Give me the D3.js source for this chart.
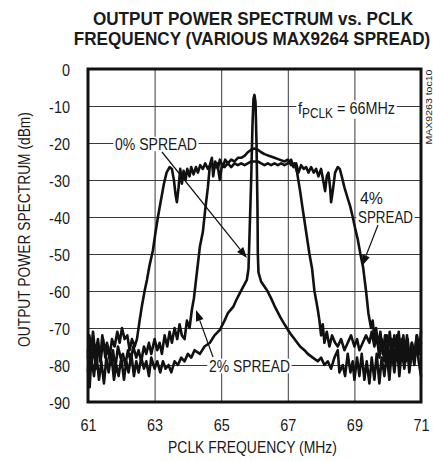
<!DOCTYPE html>
<html><head><meta charset="utf-8">
<script src="https://cdn.jsdelivr.net/npm/d3@7"></script>
<style>
html,body{margin:0;padding:0;background:#fff;}
svg{display:block;}
text{font-family:"Liberation Sans",Arial,sans-serif;fill:#1a1a1a;}
</style></head>
<body>
<svg id="chart" width="433" height="461"></svg>
<script>
// ---------------- data ----------------
const titleLines = ["OUTPUT POWER SPECTRUM vs. PCLK", "FREQUENCY (VARIOUS MAX9264 SPREAD)"];
const xTicks = [61, 63, 65, 67, 69, 71];
const yTicks = [0, -10, -20, -30, -40, -50, -60, -70, -80, -90];
const xTitle = "PCLK FREQUENCY (MHz)";
const yTitle = "OUTPUT POWER SPECTRUM (dBm)";

// [frequency MHz, power dBm]
const spread0 = [[61.0,-76],[61.05,-86],[61.1,-78],[61.18,-83],[61.25,-77],[61.33,-84],[61.4,-79],[61.48,-85],[61.55,-78],[61.62,-82],[61.7,-77],[61.78,-84],[61.85,-80],[61.92,-83],[62.0,-78],[62.08,-84],[62.15,-79],[62.22,-82],[62.3,-77],[62.38,-83],[62.45,-79],[62.52,-82],[62.6,-78],[62.68,-81],[62.75,-79],[62.83,-83],[62.9,-78],[63.0,-81],[63.08,-79],[63.17,-82],[63.25,-79],[63.33,-81],[63.42,-80],[63.5,-82],[63.6,-79],[63.7,-80],[63.8,-78],[63.9,-79],[64.0,-77],[64.1,-78],[64.2,-76],[64.36,-77],[64.5,-75],[64.66,-74],[64.8,-72],[64.96,-70.5],[65.1,-68],[65.2,-66],[65.36,-64.3],[65.45,-62.5],[65.56,-60.6],[65.65,-59],[65.77,-57],[65.82,-54],[65.85,-45],[65.9,-30],[65.94,-15],[65.97,-8],[66.0,-7],[66.03,-9],[66.06,-20],[66.09,-38],[66.1,-50],[66.12,-55],[66.2,-57.5],[66.37,-59.7],[66.5,-62],[66.6,-64],[66.77,-67],[66.9,-69],[67.07,-71.4],[67.2,-73],[67.37,-75],[67.5,-76],[67.6,-77],[67.75,-78],[67.9,-79],[68.0,-78],[68.1,-80],[68.2,-79],[68.3,-81],[68.4,-78],[68.5,-76],[68.55,-82],[68.65,-80],[68.72,-83],[68.8,-77],[68.88,-82],[68.95,-79],[69.0,-84],[69.08,-78],[69.15,-83],[69.22,-77],[69.3,-84],[69.37,-79],[69.45,-85],[69.52,-78],[69.6,-84],[69.67,-77],[69.75,-85],[69.82,-78],[69.9,-83],[69.97,-77],[70.05,-84],[70.12,-76],[70.2,-82],[70.28,-75],[70.35,-83],[70.42,-76],[70.5,-81],[70.58,-75],[70.65,-82],[70.72,-76],[70.8,-80],[70.87,-74],[70.93,-79],[71.0,-83]];

const spread2 = [[61.0,-82],[61.04,-73],[61.1,-80],[61.17,-75],[61.24,-81],[61.3,-74],[61.38,-79],[61.45,-73],[61.52,-78],[61.6,-75],[61.67,-80],[61.75,-76],[61.82,-81],[61.9,-75],[61.98,-78],[62.05,-77],[62.12,-80],[62.2,-76],[62.28,-79],[62.36,-75],[62.45,-78],[62.52,-76],[62.6,-79],[62.68,-75],[62.75,-77],[62.83,-74],[62.9,-77],[63.0,-73],[63.08,-76],[63.15,-74],[63.22,-77],[63.3,-72],[63.38,-75],[63.45,-71],[63.52,-74],[63.6,-70],[63.68,-73],[63.75,-69],[63.82,-72],[63.9,-73],[63.97,-68],[64.05,-70],[64.12,-65],[64.18,-62],[64.27,-55],[64.36,-48],[64.45,-44],[64.52,-38],[64.6,-32],[64.66,-26],[64.72,-24],[64.76,-29],[64.82,-25],[64.9,-27],[64.96,-24.5],[65.05,-26.5],[65.12,-24.5],[65.2,-25.5],[65.3,-24.5],[65.4,-25],[65.5,-24],[65.6,-24],[65.7,-23.5],[65.8,-22.5],[65.9,-21.8],[66.0,-21.5],[66.1,-21.8],[66.2,-22.5],[66.3,-23],[66.45,-23.5],[66.6,-24],[66.75,-24.5],[66.9,-25],[67.0,-24.5],[67.1,-26],[67.2,-25.5],[67.28,-28],[67.37,-33],[67.45,-38],[67.55,-44],[67.65,-50],[67.73,-54],[67.8,-60],[67.9,-65],[67.95,-68],[68.0,-72],[68.05,-69],[68.1,-74],[68.17,-71],[68.25,-75],[68.33,-72],[68.42,-74],[68.5,-75],[68.6,-73],[68.7,-76],[68.8,-74],[68.9,-72],[69.0,-75],[69.08,-73],[69.15,-76],[69.25,-74],[69.35,-72],[69.45,-74],[69.52,-71],[69.6,-75],[69.67,-72],[69.75,-78],[69.82,-73],[69.9,-79],[69.97,-72],[70.05,-80],[70.12,-73],[70.2,-79],[70.28,-72],[70.35,-80],[70.42,-73],[70.5,-78],[70.58,-72],[70.65,-79],[70.72,-74],[70.8,-77],[70.88,-72],[70.95,-76],[71.0,-71]];

const spread4 = [[61.0,-78],[61.04,-72],[61.1,-76],[61.15,-71],[61.22,-77],[61.3,-73],[61.36,-79],[61.43,-72],[61.5,-76],[61.57,-74],[61.65,-78],[61.72,-73],[61.8,-75],[61.88,-71],[61.95,-74],[62.02,-70],[62.1,-73],[62.18,-72],[62.25,-76],[62.32,-73],[62.4,-75],[62.47,-73],[62.55,-68],[62.62,-64],[62.7,-60],[62.77,-57],[62.85,-53],[62.95,-49],[63.03,-44],[63.1,-40],[63.2,-35],[63.28,-31],[63.36,-28],[63.45,-26.5],[63.52,-27],[63.58,-30],[63.63,-34],[63.67,-36],[63.72,-32],[63.77,-27],[63.82,-31],[63.87,-27.5],[63.93,-30],[63.98,-27],[64.05,-29],[64.1,-26.5],[64.17,-28.5],[64.24,-26.5],[64.3,-28],[64.37,-26],[64.45,-27],[64.52,-25.5],[64.6,-27],[64.7,-25.5],[64.78,-27],[64.88,-25.5],[64.96,-30],[65.02,-26],[65.1,-26.5],[65.2,-25.5],[65.3,-26.5],[65.4,-25.5],[65.5,-26],[65.6,-25.5],[65.7,-26],[65.8,-25.5],[65.9,-25],[66.0,-25],[66.1,-25],[66.2,-25.5],[66.3,-26],[66.4,-25.5],[66.5,-26],[66.6,-25.5],[66.7,-26],[66.8,-25.5],[66.9,-26],[67.0,-25.5],[67.1,-24.5],[67.17,-26.5],[67.25,-25.5],[67.32,-28],[67.4,-26],[67.48,-27],[67.55,-26.5],[67.62,-28],[67.7,-26.5],[67.78,-28],[67.85,-27],[67.92,-29],[68.0,-27],[68.06,-30],[68.12,-33],[68.17,-29],[68.22,-28],[68.27,-32],[68.3,-36],[68.35,-33],[68.42,-28],[68.5,-26.5],[68.56,-27],[68.62,-29],[68.7,-32],[68.8,-35],[68.87,-37],[68.95,-40],[69.02,-43],[69.1,-46],[69.18,-50],[69.26,-53.5],[69.35,-60],[69.42,-66],[69.5,-70],[69.55,-68],[69.6,-73],[69.65,-70],[69.72,-75],[69.78,-71],[69.85,-77],[69.92,-72],[70.0,-78],[70.06,-71],[70.13,-77],[70.2,-72],[70.27,-78],[70.33,-71],[70.4,-77],[70.47,-72],[70.54,-79],[70.6,-73],[70.67,-80],[70.73,-74],[70.8,-78],[70.87,-72],[70.95,-77],[71.0,-74]];

// ---------------- layout ----------------
const svg = d3.select("#chart");
const L = 88, T = 69, R = 421, B = 402;
const x = d3.scaleLinear().domain([61, 71]).range([L, R]);
const y = d3.scaleLinear().domain([-90, 0]).range([B, T]);
const NARROW = 0.82;

// place a horizontally condensed text; returns group
function ctext(parent, px, py, str, opts) {
  const o = Object.assign({size: 17, anchor: "start", rotate: 0, width: null, k: NARROW, weight: "normal", fill: "#1a1a1a"}, opts || {});
  const g = parent.append("g");
  const inner = g.append("g");
  const t = inner.append("text").attr("x", 0).attr("y", 0).attr("font-size", o.size)
    .attr("font-weight", o.weight).attr("fill", o.fill).attr("text-anchor", o.anchor);
  if (typeof str === "string") t.text(str);
  else str.forEach(p => {
    const s = t.append("tspan").text(p.t);
    if (p.fs) s.attr("font-size", p.fs);
    if (p.dy) s.attr("dy", p.dy);
  });
  const w = t.node().getComputedTextLength();
  const sx = o.width ? o.width / w : o.k;
  inner.attr("transform", `scale(${sx},1)`);
  g.attr("transform", `translate(${px},${py})` + (o.rotate ? ` rotate(${o.rotate})` : ""));
  if (o.bg) {
    const bb = t.node().getBBox();
    inner.insert("rect", "text").attr("x", bb.x - 2).attr("y", bb.y + 2).attr("width", bb.width + 4)
      .attr("height", bb.height - 4).attr("fill", "#fff");
  }
  return g;
}

// title
ctext(svg, 253, 24.5, titleLines[0], {size: 18.3, weight: "bold", anchor: "middle", width: 320});
ctext(svg, 252, 45, titleLines[1], {size: 18.3, weight: "bold", anchor: "middle", width: 356});

// grid lines via axes
const gx = svg.append("g").attr("transform", `translate(0,${B})`)
  .call(d3.axisBottom(x).tickValues(xTicks).tickSize(-(B - T)).tickFormat(""));
gx.select(".domain").remove();
gx.selectAll("line").attr("stroke", "#3a3a3a").attr("stroke-width", 1);
gx.selectAll(".tick").each(function(d) {
  ctext(d3.select(this), 0, 29, String(d), {anchor: "middle", k: 0.85});
});

const gy = svg.append("g").attr("transform", `translate(${L},0)`)
  .call(d3.axisLeft(y).tickValues(yTicks).tickSize(-(R - L)).tickFormat(""));
gy.select(".domain").remove();
gy.selectAll("line").attr("stroke", "#3a3a3a").attr("stroke-width", 1);
gy.selectAll(".tick").each(function(d) {
  ctext(d3.select(this), -18, 6, String(d), {anchor: "end", k: 0.85});
});

// axis titles
ctext(svg, 252.5, 453, xTitle, {anchor: "middle", width: 169});
ctext(svg, 29.5, 229.5, yTitle, {anchor: "middle", width: 235, rotate: -90});

// side code
ctext(svg, 431.5, 107, "MAX9263 toc10", {anchor: "middle", size: 9, width: 75, rotate: -90, fill: "#333"});

// labels with white backgrounds
ctext(svg, 115, 150, "0% SPREAD", {bg: true, width: 82});
ctext(svg, 209, 372, "2% SPREAD", {bg: true, width: 81});
ctext(svg, 298, 113.5, [{t: "f"}, {t: "PCLK", fs: 14, dy: 4}, {t: " = 66MHz", dy: -4}], {bg: true, width: 97});
ctext(svg, 360, 204, "4%", {size: 16, bg: true, width: 23});
ctext(svg, 358, 223, "SPREAD", {size: 16, bg: true, width: 55});

// frame
svg.append("rect").attr("x", L).attr("y", T).attr("width", R - L).attr("height", B - T)
  .attr("fill", "none").attr("stroke", "#111").attr("stroke-width", 3);

// curves
const line = d3.line().x(d => x(d[0])).y(d => y(d[1]));
[spread0, spread2, spread4].forEach(s => {
  svg.append("path").datum(s).attr("d", line).attr("fill", "none").attr("stroke", "#111")
    .attr("stroke-width", 2.6).attr("stroke-linejoin", "round").attr("stroke-linecap", "round");
});

// arrows
function arrow(x1, y1, x2, y2) {
  const ang = Math.atan2(y2 - y1, x2 - x1), len = 11, wid = 4;
  const bx = x2 - len * Math.cos(ang), by = y2 - len * Math.sin(ang);
  svg.append("line").attr("x1", x1).attr("y1", y1).attr("x2", bx).attr("y2", by)
    .attr("stroke", "#111").attr("stroke-width", 1.2);
  const px = -Math.sin(ang) * wid, py = Math.cos(ang) * wid;
  svg.append("path").attr("d", `M${x2},${y2}L${bx + px},${by + py}L${bx - px},${by - py}Z`).attr("fill", "#111");
}
arrow(162, 152, 247, 258);
arrow(213, 357, 196, 310);
arrow(378, 225, 362, 266);
</script>
</body></html>
